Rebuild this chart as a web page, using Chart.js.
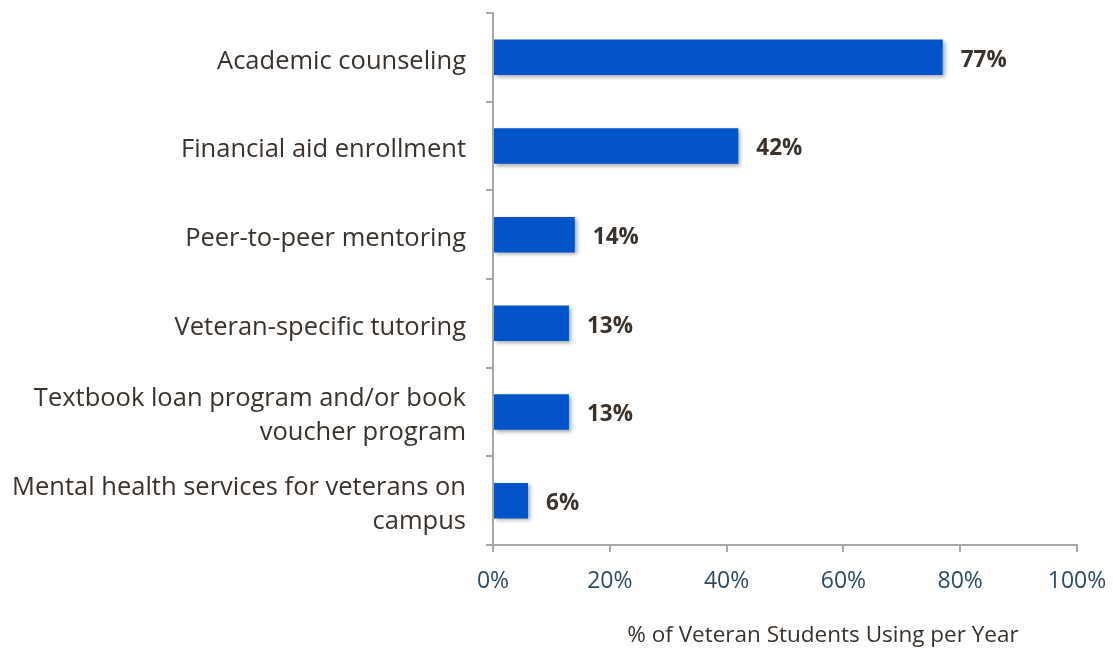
<!DOCTYPE html>
<html>
<head>
<meta charset="utf-8">
<script src="https://cdn.jsdelivr.net/npm/chart.js@4"></script>
<style>
  html, body { margin: 0; padding: 0; background: #ffffff; }
  #wrap { width: 1113px; height: 649px; position: relative; }
</style>
</head>
<body>
<div id="wrap"><canvas id="services-chart"></canvas></div>
<script>
// Services used by veteran students, share per year
const serviceLabels = [
  'Academic counseling',
  'Financial aid enrollment',
  'Peer-to-peer mentoring',
  'Veteran-specific tutoring',
  ['Textbook loan program and/or book', 'voucher program'],
  ['Mental health services for veterans on', 'campus']
];
const usageShare = [77, 42, 14, 13, 13, 6];
const axisTicks = [0, 20, 40, 60, 80, 100];
const axisTitle = '% of Veteran Students Using per Year';

const FONT = "'Open Sans', 'Noto Sans', sans-serif";
const AXIS_GRAY = '#a6a8ab';

// soft drop shadow under the bars
const barShadow = {
  id: 'barShadow',
  beforeDatasetsDraw(chart) {
    const ctx = chart.ctx;
    ctx.save();
    ctx.shadowColor = 'rgba(0,0,0,0.35)';
    ctx.shadowBlur = 4;
    ctx.shadowOffsetX = 2;
    ctx.shadowOffsetY = 2;
  },
  afterDatasetsDraw(chart) {
    chart.ctx.restore();
  }
};

// bold value labels to the right of each bar
const valueLabels = {
  id: 'valueLabels',
  afterDatasetsDraw(chart) {
    const ctx = chart.ctx;
    const meta = chart.getDatasetMeta(0);
    ctx.save();
    ctx.font = "bold 22.5px " + FONT;
    ctx.fillStyle = '#3b322c';
    ctx.textAlign = 'left';
    ctx.textBaseline = 'middle';
    meta.data.forEach((bar, i) => {
      ctx.fillText(usageShare[i] + '%', bar.x + 18, bar.y + 3);
    });
    ctx.restore();
  }
};

// x axis title, sitting a little right of the axis centre
const xTitle = {
  id: 'xTitle',
  afterDraw(chart) {
    const ctx = chart.ctx;
    const x = chart.scales.x;
    ctx.save();
    ctx.font = "22.5px " + FONT;
    ctx.fillStyle = '#3b322c';
    ctx.textAlign = 'center';
    ctx.textBaseline = 'middle';
    ctx.fillText(axisTitle, x.getPixelForValue(56.5), x.bottom - 13);
    ctx.restore();
  }
};

new Chart(document.getElementById('services-chart'), {
  type: 'bar',
  data: {
    labels: serviceLabels,
    datasets: [{
      data: usageShare,
      backgroundColor: '#0454c9',
      borderWidth: 0,
      barPercentage: 0.4,
      categoryPercentage: 1
    }]
  },
  options: {
    indexAxis: 'y',
    responsive: true,
    maintainAspectRatio: false,
    animation: false,
    layout: { padding: { top: 13, right: 36, left: 0, bottom: 0 } },
    plugins: {
      legend: { display: false },
      tooltip: { enabled: false }
    },
    scales: {
      x: {
        min: 0,
        max: 100,
        afterBuildTicks(scale) {
          scale.ticks = axisTicks.map(v => ({ value: v }));
        },
        afterFit(scale) {
          scale.height = 104;
          scale.paddingLeft = 0;
          scale.paddingRight = 0;
        },
        grid: {
          drawOnChartArea: false,
          drawTicks: true,
          tickLength: 7,
          color: AXIS_GRAY,
          lineWidth: 2
        },
        border: { color: AXIS_GRAY, width: 2 },
        ticks: {
          padding: 16,
          color: '#2d4d5e',
          font: { family: FONT, size: 23 },
          callback: v => v + '%'
        }
      },
      y: {
        afterFit(scale) {
          scale.width = 493;
          scale.paddingTop = 0;
          scale.paddingBottom = 0;
        },
        grid: {
          offset: true,
          drawOnChartArea: false,
          drawTicks: true,
          tickLength: 7,
          color: AXIS_GRAY,
          lineWidth: 2
        },
        border: { color: AXIS_GRAY, width: 2 },
        ticks: {
          padding: 20,
          labelOffset: 4,
          color: '#3b322c',
          font: { family: FONT, size: 25.5, lineHeight: 1.33 }
        }
      }
    }
  },
  plugins: [barShadow, valueLabels, xTitle]
});
</script>
</body>
</html>
